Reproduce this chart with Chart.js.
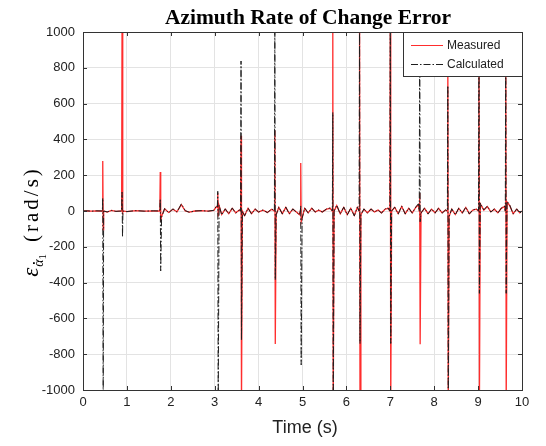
<!DOCTYPE html>
<html>
<head>
<meta charset="utf-8">
<script src="https://cdn.jsdelivr.net/npm/chart.js@4/dist/chart.umd.min.js"></script>
<style>
  body { margin: 0; background: #fff; }
  canvas { display: block; }
</style>
</head>
<body>
<canvas id="azimuthChart" width="546" height="446"></canvas>
<script>
// tick values
const xTicks = [0, 1, 2, 3, 4, 5, 6, 7, 8, 9, 10]
const yTicks = [-1000, -800, -600, -400, -200, 0, 200, 400, 600, 800, 1000]

// measured error, [time s, rad/s]
const measured = [
  [0, 0], [0.1, 1], [0.2, -1], [0.3, 1], [0.44, 0],
  [0.45, 280], [0.46, -105], [0.47, 0],
  [0.55, -6], [0.65, 3], [0.75, -2], [0.88, 0],
  [0.89, 1100], [0.90, -20], [0.91, 0],
  [1.0, -3], [1.2, 2], [1.4, -1], [1.6, 1], [1.75, 0],
  [1.76, 218], [1.77, -60], [1.79, -30],
  [1.86, 12], [1.95, -8], [2.05, 10], [2.14, -5], [2.24, 35], [2.33, 0], [2.42, -6],
  [2.55, 0], [2.7, 2], [2.85, -1], [2.98, 3], [3.04, 25], [3.06, 20],
  [3.07, 100], [3.08, -30], [3.10, 30],
  [3.16, -20], [3.24, 10], [3.32, -15], [3.40, 15], [3.48, -10], [3.56, 5], [3.59, 0],
  [3.60, 420], [3.61, -1100], [3.63, 0],
  [3.68, -25], [3.76, 15], [3.84, -15], [3.92, 10], [4.00, -5], [4.10, 5], [4.20, -8], [4.30, 10], [4.36, 0],
  [4.37, 450], [4.38, -743], [4.40, -20],
  [4.46, 20], [4.54, -15], [4.62, 20], [4.70, -15], [4.78, 10], [4.86, -5], [4.93, -20], [4.95, 0],
  [4.96, 268], [4.97, -60], [4.99, -40],
  [5.05, 15], [5.13, -10], [5.21, 15], [5.29, -5], [5.37, 5], [5.45, -5], [5.55, 10], [5.63, 15], [5.68, 0],
  [5.69, 1100], [5.70, -1100], [5.72, 0],
  [5.78, 30], [5.86, -15], [5.94, 20], [6.02, -20], [6.10, 15], [6.18, -25], [6.25, 20], [6.29, 0],
  [6.30, 1100], [6.31, -1100], [6.33, -20],
  [6.40, 10], [6.48, -10], [6.56, 10], [6.64, -5], [6.72, 5], [6.80, -10], [6.88, 10], [6.95, 15], [6.99, 0],
  [7.00, 1100], [7.01, -1100], [7.03, 0],
  [7.10, 20], [7.18, -15], [7.26, 25], [7.34, -15], [7.42, 15], [7.50, -10], [7.58, 20], [7.64, 35], [7.66, 0],
  [7.67, 100], [7.68, -745], [7.70, -10],
  [7.78, 15], [7.86, -15], [7.94, 10], [8.02, -10], [8.10, 15], [8.18, -10], [8.26, 5], [8.30, 0],
  [8.31, 1100], [8.32, -1100], [8.34, -30],
  [8.40, 10], [8.48, -20], [8.56, 15], [8.64, -10], [8.72, 20], [8.80, -15], [8.88, 5], [8.96, 10], [9.01, 0],
  [9.02, 1100], [9.03, -1100], [9.05, 40],
  [9.13, 5], [9.21, 25], [9.29, -5], [9.37, 10], [9.45, -10], [9.53, 15], [9.60, 25], [9.62, 0],
  [9.63, 1100], [9.64, -1100], [9.66, 50],
  [9.72, 30], [9.80, -15], [9.88, 10], [9.95, -10], [10.0, 0]
]

// calculated error, [time s, rad/s]
const calculated = [
  [0, 0], [0.1, 1], [0.2, -1], [0.3, 1], [0.44, 0],
  [0.45, 72], [0.46, -1100], [0.47, 0],
  [0.55, -5], [0.65, 3], [0.75, -2], [0.88, 0],
  [0.89, 105], [0.90, -145], [0.91, 0],
  [1.0, -3], [1.2, 2], [1.4, -1], [1.6, 1], [1.75, 0],
  [1.76, 67], [1.77, -335], [1.79, -35],
  [1.86, 14], [1.95, -10], [2.05, 12], [2.14, -6], [2.24, 40], [2.33, 2], [2.42, -7],
  [2.55, 0], [2.7, 2], [2.85, -1], [2.98, 4], [3.04, 28], [3.06, 22],
  [3.07, 110], [3.08, -1100], [3.10, 32],
  [3.16, -22], [3.24, 12], [3.32, -16], [3.40, 17], [3.48, -12], [3.56, 6], [3.59, 0],
  [3.60, 838], [3.61, -720], [3.63, 0],
  [3.68, -28], [3.76, 16], [3.84, -17], [3.92, 12], [4.00, -6], [4.10, 6], [4.20, -9], [4.30, 12], [4.36, 0],
  [4.37, 1100], [4.38, -385], [4.40, -22],
  [4.46, 22], [4.54, -17], [4.62, 22], [4.70, -17], [4.78, 12], [4.86, -6], [4.93, -22], [4.95, 0],
  [4.96, 30], [4.97, -860], [4.99, -42],
  [5.05, 17], [5.13, -12], [5.21, 17], [5.29, -6], [5.37, 6], [5.45, -6], [5.55, 12], [5.63, 17], [5.68, 0],
  [5.69, 550], [5.70, -1100], [5.72, 0],
  [5.78, 33], [5.86, -17], [5.94, 22], [6.02, -22], [6.10, 17], [6.18, -28], [6.25, 22], [6.29, 0],
  [6.30, 1100], [6.31, -740], [6.33, -22],
  [6.40, 12], [6.48, -12], [6.56, 12], [6.64, -6], [6.72, 6], [6.80, -12], [6.88, 12], [6.95, 17], [6.99, 0],
  [7.00, 1100], [7.01, -740], [7.03, 0],
  [7.10, 22], [7.18, -17], [7.26, 28], [7.34, -17], [7.42, 17], [7.50, -12], [7.58, 22], [7.64, 40], [7.66, 0],
  [7.67, 1100], [7.68, -60], [7.70, -12],
  [7.78, 17], [7.86, -17], [7.94, 12], [8.02, -12], [8.10, 17], [8.18, -12], [8.26, 6], [8.30, 0],
  [8.31, 700], [8.32, -1100], [8.34, -32],
  [8.40, 12], [8.48, -22], [8.56, 17], [8.64, -12], [8.72, 22], [8.80, -17], [8.88, 6], [8.96, 12], [9.01, 0],
  [9.02, 1100], [9.03, -460], [9.05, 45],
  [9.13, 6], [9.21, 28], [9.29, -6], [9.37, 12], [9.45, -12], [9.53, 17], [9.60, 28], [9.62, 0],
  [9.63, 1100], [9.64, -460], [9.66, 55],
  [9.72, 33], [9.80, -17], [9.88, 12], [9.95, -12], [10.0, 0]
]

const seriesNames = ['Measured', 'Calculated']
const seriesColors = ['rgb(255,45,45)', 'rgb(30,30,30)']
const dashDot = [7, 2, 1.5, 2]

const toPoints = (pairs) => pairs.map(p => ({ x: p[0], y: p[1] }))

// frame, inward ticks, title, axis titles and legend box (matlab look)
const matlabDecor = {
  id: 'matlabDecor',
  afterDraw(chart) {
    const ctx = chart.ctx
    const area = chart.chartArea
    const xs = chart.scales.x
    const ys = chart.scales.y
    ctx.save()

    // box + inward ticks
    ctx.strokeStyle = '#333'
    ctx.lineWidth = 1
    ctx.strokeRect(area.left + 0.5, area.top + 0.5, area.right - area.left, area.bottom - area.top)
    ctx.beginPath()
    for (const t of xTicks) {
      const px = Math.round(xs.getPixelForValue(t)) + 0.5
      ctx.moveTo(px, area.bottom); ctx.lineTo(px, area.bottom - 4)
      ctx.moveTo(px, area.top); ctx.lineTo(px, area.top + 4)
    }
    for (const t of yTicks) {
      const py = Math.round(ys.getPixelForValue(t)) + 0.5
      ctx.moveTo(area.left, py); ctx.lineTo(area.left + 4, py)
      ctx.moveTo(area.right, py); ctx.lineTo(area.right - 4, py)
    }
    ctx.stroke()

    // title
    ctx.fillStyle = '#000'
    ctx.font = 'bold 21.5px "Liberation Serif", "Times New Roman", serif'
    ctx.textAlign = 'center'
    ctx.textBaseline = 'alphabetic'
    ctx.fillText('Azimuth Rate of Change Error', 308, 24)

    // x title
    ctx.font = '18px "Liberation Sans", Arial, sans-serif'
    ctx.fillStyle = '#222'
    ctx.fillText('Time (s)', 305, 433)

    // y title with subscript
    ctx.save()
    ctx.translate(38, 222)
    ctx.rotate(-Math.PI / 2)
    ctx.fillStyle = '#000'
    ctx.textAlign = 'left'
    const bigFont = '21px "Liberation Serif", "Times New Roman", serif'
    const epsFont = 'italic 23px "Liberation Serif", "Times New Roman", serif'
    const subFont = 'italic 14px "Liberation Serif", "Times New Roman", serif'
    const subNumFont = '11px "Liberation Serif", "Times New Roman", serif'
    ctx.font = epsFont; const wEps = ctx.measureText('ε').width
    ctx.font = subFont; const wAlpha = ctx.measureText('α').width
    ctx.font = subNumFont; const wOne = ctx.measureText('1').width
    ctx.font = bigFont
    ctx.letterSpacing = '3px'
    const wRest = ctx.measureText('(rad/s)').width
    ctx.letterSpacing = '0px'
    const gap = 12
    let cx = -(wEps + wAlpha + wOne + gap + wRest) / 2
    ctx.font = epsFont; ctx.fillText('ε', cx, 0); cx += wEps + 1
    ctx.font = subFont; ctx.fillText('α', cx, 5)
    ctx.fillRect(cx + wAlpha / 2 - 0.9, -5, 1.8, 1.8)
    cx += wAlpha
    ctx.font = subNumFont; ctx.fillText('1', cx, 8); cx += wOne + gap
    ctx.font = bigFont
    ctx.letterSpacing = '3px'
    ctx.fillText('(rad/s)', cx, 0)
    ctx.letterSpacing = '0px'
    ctx.restore()

    // legend box
    const lx = 403, ly = area.top, lw = area.right - 403, lh = 44
    ctx.fillStyle = '#fff'
    ctx.fillRect(lx, ly, lw, lh)
    ctx.strokeStyle = '#333'
    ctx.strokeRect(lx + 0.5, ly + 0.5, lw, lh)
    ctx.font = '12px "Liberation Sans", Arial, sans-serif'
    ctx.textBaseline = 'middle'
    ctx.textAlign = 'left'
    seriesNames.forEach((name, i) => {
      const rowY = ly + 13 + i * 19 + 0.5
      ctx.strokeStyle = seriesColors[i]
      ctx.lineWidth = 1
      ctx.setLineDash(i === 1 ? dashDot : [])
      ctx.beginPath()
      ctx.moveTo(lx + 8, rowY); ctx.lineTo(lx + 40, rowY)
      ctx.stroke()
      ctx.setLineDash([])
      ctx.fillStyle = '#222'
      ctx.fillText(name, lx + 44, rowY)
    })
    ctx.restore()
  }
}

const ctx = document.getElementById('azimuthChart')
new Chart(ctx, {
  type: 'line',
  data: {
    datasets: [
      {
        label: seriesNames[0],
        data: toPoints(measured),
        borderColor: seriesColors[0],
        borderWidth: 1.3,
        pointRadius: 0,
        tension: 0,
        order: 2,
      },
      {
        label: seriesNames[1],
        data: toPoints(calculated),
        borderColor: seriesColors[1],
        borderWidth: 1,
        borderDash: dashDot,
        pointRadius: 0,
        tension: 0,
        order: 1,
      },
    ]
  },
  options: {
    responsive: false,
    animation: false,
    devicePixelRatio: 1,
    layout: { padding: { top: 32, right: 24, left: 0, bottom: 0 } },
    plugins: {
      legend: { display: false },
      title: { display: false },
      tooltip: { enabled: false },
    },
    scales: {
      x: {
        type: 'linear',
        min: 0,
        max: 10,
        afterFit: (s) => { s.height = 56 },
        afterBuildTicks: (s) => { s.ticks = xTicks.map(v => ({ value: v })) },
        ticks: {
          padding: 5,
          color: '#222',
          font: { family: '"Liberation Sans", Arial, sans-serif', size: 13 },
          maxRotation: 0,
          callback: (v) => String(v),
        },
        grid: { color: '#e3e3e3', drawTicks: false },
        border: { display: false },
      },
      y: {
        min: -1000,
        max: 1000,
        afterFit: (s) => { s.width = 83 },
        afterBuildTicks: (s) => { s.ticks = yTicks.map(v => ({ value: v })) },
        ticks: {
          padding: 8,
          color: '#222',
          font: { family: '"Liberation Sans", Arial, sans-serif', size: 13 },
          callback: (v) => String(v),
        },
        grid: { color: '#e3e3e3', drawTicks: false },
        border: { display: false },
      }
    }
  },
  plugins: [matlabDecor]
})
</script>
</body>
</html>
